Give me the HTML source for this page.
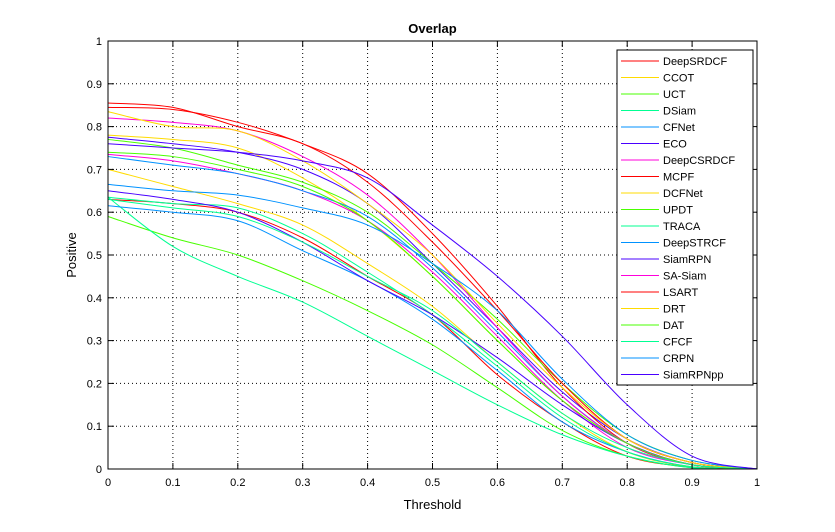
<!DOCTYPE html>
<html><head><meta charset="utf-8"><style>
body{margin:0;background:#fff;width:835px;height:527px;overflow:hidden}
svg text{font-family:"Liberation Sans",Arial,sans-serif}
</style></head><body>
<svg id="chart" width="835" height="527">
<rect x="0" y="0" width="835" height="527" fill="#fff"/>
</svg>
<script>
const thresholds=[0,0.1,0.2,0.3,0.4,0.5,0.6,0.7,0.8,0.9,1.0];
const seriesNames=["DeepSRDCF","CCOT","UCT","DSiam","CFNet","ECO","DeepCSRDCF","MCPF","DCFNet","UPDT","TRACA","DeepSTRCF","SiamRPN","SA-Siam","LSART","DRT","DAT","CFCF","CRPN","SiamRPNpp"];
const sDeepSRDCF=[0.63,0.62,0.60,0.54,0.45,0.36,0.22,0.11,0.03,0.005,0];
const sCCOT=[0.78,0.77,0.75,0.68,0.58,0.45,0.30,0.16,0.06,0.01,0];
const sUCT=[0.59,0.54,0.50,0.44,0.37,0.29,0.19,0.09,0.03,0.003,0];
const sDSiam=[0.635,0.52,0.45,0.39,0.31,0.23,0.15,0.08,0.03,0.003,0];
const sCFNet=[0.615,0.60,0.58,0.51,0.44,0.35,0.23,0.11,0.04,0.005,0];
const sECO=[0.775,0.76,0.74,0.70,0.62,0.48,0.33,0.18,0.07,0.015,0];
const sDeepCSRDCF=[0.735,0.72,0.69,0.65,0.58,0.46,0.31,0.16,0.05,0.01,0];
const sMCPF=[0.845,0.84,0.81,0.76,0.69,0.55,0.38,0.19,0.06,0.01,0];
const sDCFNet=[0.70,0.66,0.62,0.57,0.48,0.38,0.25,0.13,0.04,0.005,0];
const sUPDT=[0.77,0.75,0.71,0.67,0.60,0.48,0.35,0.20,0.08,0.02,0];
const sTRACA=[0.635,0.62,0.61,0.55,0.46,0.36,0.24,0.12,0.04,0.005,0];
const sDeepSTRCF=[0.73,0.71,0.69,0.65,0.59,0.47,0.32,0.17,0.06,0.01,0];
const sSiamRPN=[0.65,0.63,0.60,0.53,0.44,0.36,0.26,0.15,0.06,0.01,0];
const sSASiam=[0.82,0.81,0.79,0.73,0.64,0.50,0.33,0.17,0.06,0.01,0];
const sLSART=[0.855,0.845,0.80,0.76,0.67,0.53,0.37,0.20,0.07,0.015,0];
const sDRT=[0.835,0.80,0.79,0.72,0.62,0.50,0.34,0.19,0.07,0.015,0];
const sDAT=[0.74,0.73,0.70,0.66,0.58,0.45,0.30,0.16,0.06,0.01,0];
const sCFCF=[0.63,0.61,0.59,0.53,0.45,0.37,0.25,0.13,0.05,0.01,0];
const sCRPN=[0.665,0.65,0.64,0.61,0.57,0.48,0.37,0.21,0.08,0.02,0];
const sSiamRPNpp=[0.76,0.75,0.74,0.72,0.68,0.57,0.45,0.31,0.15,0.03,0];
const seriesValues=[sDeepSRDCF,sCCOT,sUCT,sDSiam,sCFNet,sECO,sDeepCSRDCF,sMCPF,sDCFNet,sUPDT,sTRACA,sDeepSTRCF,sSiamRPN,sSASiam,sLSART,sDRT,sDAT,sCFCF,sCRPN,sSiamRPNpp];
const tickLabels=["0","0.1","0.2","0.3","0.4","0.5","0.6","0.7","0.8","0.9","1"];
const tickValues=[0,0.1,0.2,0.3,0.4,0.5,0.6,0.7,0.8,0.9,1];
const palette=["#ff0000","#ffdb00","#49ff00","#00ff92","#0092ff","#4900ff","#ff00db"];

const NS="http://www.w3.org/2000/svg";
const svg=document.getElementById('chart');
const L=108,R=757,T=41,B=469;
const xs=v=>L+v*(R-L), ys=v=>B-v*(B-T);
function mk(tag,attrs,parent){const e=document.createElementNS(NS,tag);for(const k in attrs)e.setAttribute(k,attrs[k]);(parent||svg).appendChild(e);return e;}

// grid
const grid=mk('g',{});


tickValues.forEach(v=>{
  if(v>0&&v<1){
    mk('line',{x1:xs(v),x2:xs(v),y1:T,y2:B,stroke:"#000","stroke-width":1,"stroke-dasharray":"1,3"},grid);
    mk('line',{x1:L,x2:R,y1:ys(v),y2:ys(v),stroke:"#000","stroke-width":1,"stroke-dasharray":"1,3"},grid);
  }
});
// series
function pathFor(vals){
  const p=vals.map((v,i)=>[xs(thresholds[i]),ys(v)]);
  let d="M"+p[0][0]+","+p[0][1];
  for(let i=0;i<p.length-1;i++){
    const p0=p[i-1]||p[i],p1=p[i],p2=p[i+1],p3=p[i+2]||p2;
    const c1=[p1[0]+(p2[0]-p0[0])/6,p1[1]+(p2[1]-p0[1])/6];
    const c2=[p2[0]-(p3[0]-p1[0])/6,p2[1]-(p3[1]-p1[1])/6];
    d+=" C"+c1[0]+","+c1[1]+" "+c2[0]+","+c2[1]+" "+p2[0]+","+p2[1];
  }
  return d;
}
seriesValues.forEach((vals,i)=>{
  const pth=mk('path',{d:pathFor(vals),fill:"none",stroke:palette[i%7],"stroke-width":1});
  
  
});
// axes box
const box=mk('rect',{x:L,y:T,width:R-L,height:B-T,fill:"none",stroke:"#000","stroke-width":1});


tickValues.forEach((v,i)=>{
  mk('line',{x1:xs(v),x2:xs(v),y1:B,y2:B-6,stroke:"#000"});
  mk('line',{x1:xs(v),x2:xs(v),y1:T,y2:T+6,stroke:"#000"});
  mk('line',{x1:L,x2:L+6,y1:ys(v),y2:ys(v),stroke:"#000"});
  mk('line',{x1:R,x2:R-6,y1:ys(v),y2:ys(v),stroke:"#000"});
  const tx=mk('text',{x:xs(v),y:B+17,"text-anchor":"middle","font-size":11});
  tx.textContent=tickLabels[i];
  
  
  const ty=mk('text',{x:L-6,y:ys(v)+4,"text-anchor":"end","font-size":11});
  ty.textContent=tickLabels[i];
  
  
});
const title=mk('text',{x:(L+R)/2,y:33,"text-anchor":"middle","font-size":13,"font-weight":"bold"});
title.textContent="Overlap";


const xt=mk('text',{x:(L+R)/2,y:509,"text-anchor":"middle","font-size":13});
xt.textContent="Threshold";


const yt=mk('text',{x:76,y:255,"text-anchor":"middle","font-size":13,transform:"rotate(-90 76 255)"});
yt.textContent="Positive";


// legend
const lg=mk('g',{});


mk('rect',{x:617,y:50,width:136,height:335,fill:"#fff",stroke:"#000","stroke-width":1},lg);
seriesNames.forEach((n,i)=>{
  const y=61+i*16.5;
  const ent=mk('g',{},lg);
  
  
  mk('line',{x1:621,x2:659,y1:y,y2:y,stroke:palette[i%7],"stroke-width":1},ent);
  const t=mk('text',{x:663,y:y+4,"font-size":11},ent);
  t.textContent=n;
});
</script>
</body></html>
